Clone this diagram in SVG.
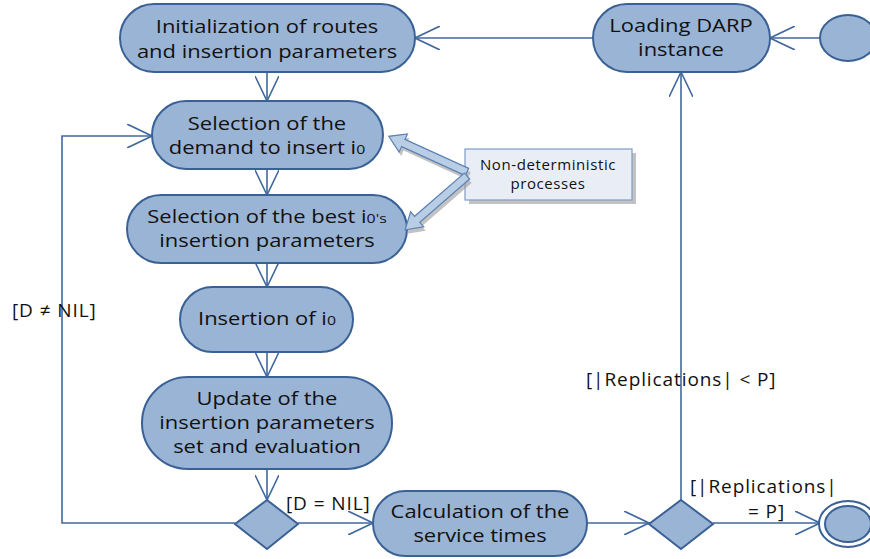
<svg xmlns="http://www.w3.org/2000/svg" width="870" height="559" viewBox="0 0 870 559">
<style>
.node{fill:#9AB4D6;stroke:#3A6195;stroke-width:2}
.lbl{font-family:"Open Sans","Liberation Sans",sans-serif;font-size:18px;fill:#111;text-anchor:middle}
.small{font-size:13px}
.con{fill:none;stroke:#41689C;stroke-width:1.6;marker-end:url(#v)}
.guard{font-family:"Open Sans","Liberation Sans",sans-serif;font-size:19px;letter-spacing:0.9px;fill:#111}
.note{font-family:"Open Sans","Liberation Sans",sans-serif;font-size:15px;letter-spacing:0.6px;fill:#111;text-anchor:middle}
.blk{fill:#B9CDE5;stroke:#5C82B5;stroke-width:1.2}
.shd{fill:#9a9a9a;opacity:0.6}
</style>
<defs>
<marker id="v" viewBox="0 0 26 24" refX="25" refY="12" markerWidth="26" markerHeight="24" markerUnits="userSpaceOnUse" orient="auto">
<path d="M0,0 L25,12 L0,24" fill="none" stroke="#41689C" stroke-width="1.6"/>
</marker>
</defs>
<g id="connectors">
<path class="con" d="M820,38 H770"/>
<path class="con" d="M593,38 H415"/>
<path class="con" d="M267,72 V101"/>
<path class="con" d="M267,169 V195"/>
<path class="con" d="M267,263 V287"/>
<path class="con" d="M267,352 V377"/>
<path class="con" d="M267,469 V500"/>
<path class="con" d="M235,523 H62 V136 H152"/>
<path class="con" d="M298,523 H373"/>
<path class="con" d="M587,523 H649"/>
<path class="con" d="M713,523 H820"/>
<path class="con" d="M681,500 V72"/>
<text class="guard" x="12" y="317">[D ≠ NIL]</text>
<text class="guard" x="286" y="510">[D = NIL]</text>
<text class="guard" x="586" y="386">[|Replications| &lt; P]</text>
<text class="guard" x="690" y="493">[|Replications|</text>
<text class="guard" x="785" y="518" text-anchor="end">= P]</text>
</g>
<g id="start"><ellipse class="node" cx="848" cy="38" rx="28" ry="23"/></g>
<g id="loading">
<rect class="node" x="593" y="4" width="177" height="68" rx="34"/>
<text class="lbl" transform="translate(681,32) scale(1.22,1)">Loading DARP</text>
<text class="lbl" transform="translate(681,56) scale(1.22,1)">instance</text>
</g>
<g id="init">
<rect class="node" x="120" y="4" width="295" height="68" rx="34"/>
<text class="lbl" transform="translate(267,33) scale(1.22,1)">Initialization of routes</text>
<text class="lbl" transform="translate(267,58) scale(1.22,1)">and insertion parameters</text>
</g>
<g id="seldemand">
<rect class="node" x="152" y="101" width="231" height="68" rx="34"/>
<text class="lbl" transform="translate(267,130) scale(1.22,1)">Selection of the</text>
<text class="lbl" transform="translate(267,154) scale(1.22,1)">demand to insert i<tspan class="small">0</tspan></text>
</g>
<g id="selbest">
<rect class="node" x="127" y="195" width="280" height="68" rx="34"/>
<text class="lbl" transform="translate(267,223) scale(1.22,1)">Selection of the best i<tspan class="small">0's</tspan></text>
<text class="lbl" transform="translate(267,247) scale(1.22,1)">insertion parameters</text>
</g>
<g id="insertion">
<rect class="node" x="180" y="287" width="173" height="65" rx="32.5"/>
<text class="lbl" transform="translate(267,325) scale(1.22,1)">Insertion of i<tspan class="small">0</tspan></text>
</g>
<g id="update">
<rect class="node" x="142" y="377" width="250" height="92" rx="46"/>
<text class="lbl" transform="translate(267,405) scale(1.22,1)">Update of the</text>
<text class="lbl" transform="translate(267,429) scale(1.22,1)">insertion parameters</text>
<text class="lbl" transform="translate(267,453) scale(1.22,1)">set and evaluation</text>
</g>
<g id="decision1"><polygon class="node" points="267,500 298,524 267,549 235,524"/></g>
<g id="calc">
<rect class="node" x="373" y="491" width="214" height="65" rx="32.5"/>
<text class="lbl" transform="translate(480,518) scale(1.22,1)">Calculation of the</text>
<text class="lbl" transform="translate(480,542) scale(1.22,1)">service times</text>
</g>
<g id="decision2"><polygon class="node" points="681,500 713,524 681,549 649,524"/></g>
<g id="final">
<ellipse cx="848" cy="524" rx="29" ry="23" fill="#fff" stroke="#3A6195" stroke-width="2"/>
<ellipse class="node" cx="848" cy="524" rx="23" ry="18"/>
</g>
<g id="note">
<rect x="469" y="153" width="167" height="51" class="shd"/>
<rect x="465" y="149" width="167" height="51" fill="#E9EEF6" stroke="#7F9CC4" stroke-width="1.2"/>
<text class="note" x="548" y="170">Non-deterministic</text>
<text class="note" x="548" y="189">processes</text>
<g transform="translate(469,176) rotate(204.5)" class="shd"><polygon points="0,-4 70,-4 70,-10 86,0 70,10 70,4 0,4"/></g>
<g transform="translate(469,180) rotate(139)" class="shd"><polygon points="0,-4 66,-4 66,-10 82,0 66,10 66,4 0,4"/></g>
<g transform="translate(467,172) rotate(204.5)"><polygon class="blk" points="0,-4 70,-4 70,-10 86,0 70,10 70,4 0,4"/></g>
<g transform="translate(467,176) rotate(139)"><polygon class="blk" points="0,-4 66,-4 66,-10 82,0 66,10 66,4 0,4"/></g>
</g>
</svg>
